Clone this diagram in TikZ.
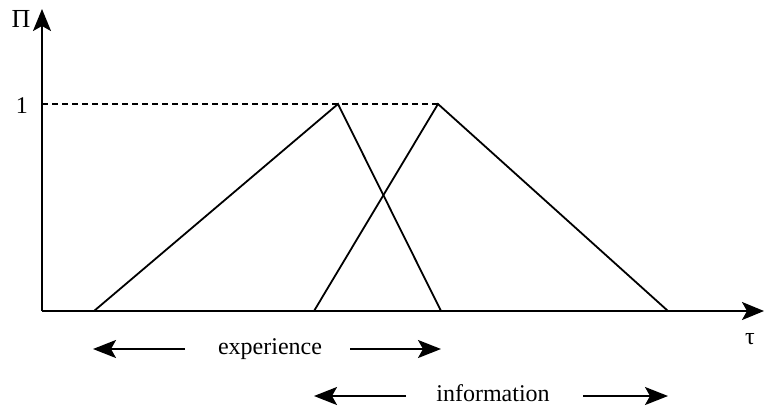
\documentclass[tikz,border=0pt]{standalone}
\usepackage{fontspec}
\setmainfont{Liberation Serif}
\usepackage{tikz}
\usetikzlibrary{arrows.meta}
\tikzstyle{axis} = [draw, line width=1pt, -{Stealth[length=11pt, width=9pt, inset=2.5pt]}]
\tikzstyle{curve} = [draw, line width=0.9pt, line join=miter]
\tikzstyle{line} = [draw, line width=1pt, -{Stealth[length=11.5pt, width=9pt, inset=2.5pt]}]
\tikzstyle{label} = [inner sep=0pt, font=\fontsize{12}{14}\selectfont]

\begin{document}
\begin{tikzpicture}[x=0.5pt, y=-0.5pt]
    \useasboundingbox (0,0) rectangle (765,414);
    % Place nodes
    \coordinate (origin) at (42,311);
    \coordinate (ytop) at (42,9);
    \coordinate (xend) at (764,311);
    \coordinate (level) at (42,104);
    \node [label, font=\fontsize{13}{15}\selectfont] (pi) at (21,19) {Π};
    \node [label] (one) at (22,106) {1};
    \node [label] (tau) at (750,339) {τ};
    \coordinate (aleft) at (94,311);
    \coordinate (apeak) at (338,104);
    \coordinate (aright) at (441,311);
    \coordinate (bleft) at (314,311);
    \coordinate (bpeak) at (438,104);
    \coordinate (bright) at (668,311);
    \node [label] (experience) at (270,349) {experience};
    \coordinate (expl) at (185,349);
    \coordinate (expltip) at (93,349);
    \coordinate (expr) at (350,349);
    \coordinate (exprtip) at (441,349);
    \node [label] (information) at (493,393) {information};
    \coordinate (infl) at (406,396);
    \coordinate (infltip) at (314,396);
    \coordinate (infr) at (583,396);
    \coordinate (infrtip) at (668,396);
    % Draw edges
    \path [axis] (origin) -- (ytop);
    \path [axis] (origin) -- (xend);
    \draw [line width=0.9pt, dashed, dash pattern=on 3pt off 2pt] (level) -- (bpeak);
    \path [curve] (aleft) -- (apeak) -- (aright);
    \path [curve] (bleft) -- (bpeak) -- (bright);
    \path [line] (expl) -- (expltip);
    \path [line] (expr) -- (exprtip);
    \path [line] (infl) -- (infltip);
    \path [line] (infr) -- (infrtip);

\end{tikzpicture}
\end{document}
